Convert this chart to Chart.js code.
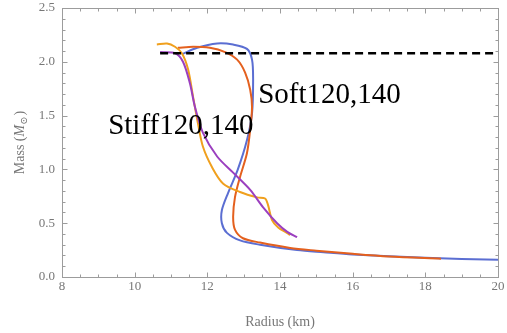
<!DOCTYPE html>
<html>
<head>
<meta charset="utf-8">
<script src="https://cdn.jsdelivr.net/npm/chart.js@4.4.1/dist/chart.umd.min.js"></script>
<style>
  html, body { margin: 0; padding: 0; background: #fff; }
  #wrap { width: 507px; height: 333px; }
</style>
</head>
<body>
<div id="wrap"><canvas id="chart"></canvas></div>
<script>
// mass-radius curves, radius in km, mass in solar masses
const stiffA_R = [10.61, 10.89, 11.11, 11.3, 11.47, 11.61, 11.74, 11.88, 12.13, 12.43, 12.9, 13.37, 13.59, 13.67, 13.78, 13.95, 14.19, 14.28];
const stiffA_M = [2.16, 2.17, 2.14, 2.08, 1.93, 1.67, 1.43, 1.21, 1.02, 0.87, 0.79, 0.74, 0.73, 0.67, 0.53, 0.46, 0.41, 0.39];

const stiffB_R = [10.7, 11.11, 11.33, 11.52, 11.66, 11.88, 12.27, 12.71, 13.18, 13.53, 13.92, 14.2, 14.47];
const stiffB_M = [2.09, 2.08, 2.0, 1.80, 1.58, 1.34, 1.12, 0.97, 0.81, 0.65, 0.50, 0.42, 0.37];

const softA_R = [11.19, 11.61, 12.07, 12.49, 12.82, 13.04, 13.18, 13.23, 13.18, 13.09, 12.9, 12.76, 12.71, 12.76, 12.98, 13.45, 14.28, 15.0, 16.0, 17.0, 18.43];
const softA_M = [2.13, 2.14, 2.13, 2.09, 2.02, 1.90, 1.74, 1.58, 1.37, 1.15, 0.93, 0.74, 0.56, 0.44, 0.36, 0.32, 0.27, 0.245, 0.215, 0.19, 0.17];

const softB_R = [11.3, 11.72, 12.27, 12.71, 13.09, 13.23, 13.26, 13.23, 13.09, 12.84, 12.57, 12.4, 12.4, 12.54, 12.9, 13.45, 14.47, 15.2, 16.0, 18.0, 20.0];
const softB_M = [2.07, 2.13, 2.17, 2.16, 2.12, 2.02, 1.83, 1.52, 1.27, 1.0, 0.78, 0.62, 0.50, 0.41, 0.34, 0.30, 0.25, 0.23, 0.21, 0.178, 0.16];

const limitR = [10.7, 20];
const limitM = 2.08;

const labels = [
  { text: 'Soft120,140', r: 13.4, m: 1.62 },
  { text: 'Stiff120,140', r: 9.27, m: 1.33 }
];

const pts = (rs, ms) => rs.map((r, i) => ({ x: r, y: ms[i] }));
const curve = (rs, ms, color) => ({
  data: pts(rs, ms), borderColor: color, borderWidth: 2, showLine: true,
  pointRadius: 0, tension: 0.3, fill: false
});

const serif = "'Liberation Serif', 'DejaVu Serif', serif";

const frame = {
  id: 'frame',
  afterDatasetsDraw(chart) {
    const { ctx, chartArea: a, scales: { x, y } } = chart;
    const L = Math.round(a.left) + 0.5, R = Math.round(a.right) + 0.5;
    const T = Math.round(a.top) + 0.5, B = Math.round(a.bottom) + 0.5;
    ctx.save();
    ctx.strokeStyle = '#9c9c9c';
    ctx.lineWidth = 1;
    ctx.strokeRect(L, T, R - L, B - T);
    ctx.beginPath();
    for (let i = 0; i <= 24; i++) {
      const v = 8 + i * 0.5;
      const px = Math.round(x.getPixelForValue(v)) + 0.5;
      const len = i % 4 === 0 ? 5 : 3;
      ctx.moveTo(px, B); ctx.lineTo(px, B - len);
      ctx.moveTo(px, T); ctx.lineTo(px, T + len);
    }
    for (let i = 0; i <= 25; i++) {
      const py = Math.round(y.getPixelForValue(i * 0.1)) + 0.5;
      const len = i % 5 === 0 ? 5 : 3;
      ctx.moveTo(L, py); ctx.lineTo(L + len, py);
      ctx.moveTo(R, py); ctx.lineTo(R - len, py);
    }
    ctx.stroke();

    // annotations
    ctx.fillStyle = '#000';
    ctx.font = '29px ' + serif;
    ctx.textBaseline = 'alphabetic';
    ctx.textAlign = 'left';
    labels.forEach(l => ctx.fillText(l.text, x.getPixelForValue(l.r), y.getPixelForValue(l.m)));

    // axis titles
    ctx.fillStyle = '#777';
    ctx.font = '14px ' + serif;
    ctx.textAlign = 'center';
    ctx.textBaseline = 'middle';
    ctx.fillText('Radius (km)', (a.left + a.right) / 2, 322);

    ctx.translate(20, (a.top + a.bottom) / 2);
    ctx.rotate(-Math.PI / 2);
    ctx.textAlign = 'left';
    const p1 = 'Mass (', p3 = ')';
    ctx.font = '14px ' + serif;
    const w1 = ctx.measureText(p1).width;
    ctx.font = 'italic 14px ' + serif;
    const w2 = ctx.measureText('M').width;
    ctx.font = '10px ' + serif;
    const w3 = ctx.measureText('⊙').width;
    ctx.font = '14px ' + serif;
    const w4 = ctx.measureText(p3).width;
    let cx = -(w1 + w2 + w3 + w4 + 1) / 2;
    ctx.fillText(p1, cx, 0); cx += w1;
    ctx.font = 'italic 14px ' + serif;
    ctx.fillText('M', cx, 0); cx += w2;
    ctx.font = '10px ' + serif;
    ctx.fillText('⊙', cx, 4); cx += w3 + 1;
    ctx.font = '14px ' + serif;
    ctx.fillText(p3, cx, 0);
    ctx.restore();
  }
};

new Chart(document.getElementById('chart'), {
  type: 'scatter',
  data: {
    datasets: [
      {
        data: pts(limitR, [limitM, limitM]), borderColor: '#000', borderWidth: 2.5,
        borderDash: [8, 5], showLine: true, pointRadius: 0, fill: false
      },
      curve(stiffB_R, stiffB_M, '#9b3fbf'),
      curve(stiffA_R, stiffA_M, '#f0a01e'),
      curve(softA_R, softA_M, '#e4601e'),
      curve(softB_R, softB_M, '#5b6ed2')
    ]
  },
  options: {
    responsive: true,
    maintainAspectRatio: false,
    animation: false,
    layout: { padding: { top: 8, right: 9, left: 0, bottom: 0 } },
    plugins: { legend: { display: false }, tooltip: { enabled: false } },
    scales: {
      x: {
        type: 'linear', min: 8, max: 20,
        grid: { display: false, drawTicks: false }, border: { display: false },
        ticks: { stepSize: 2, padding: 2, color: '#777', font: { family: serif, size: 13 } },
        afterFit: (s) => { s.height = 56; s.paddingLeft = 0; s.paddingRight = 0; }
      },
      y: {
        min: 0, max: 2.5,
        grid: { display: false, drawTicks: false }, border: { display: false },
        ticks: { stepSize: 0.5, padding: 7, color: '#777', font: { family: serif, size: 13 },
                 callback: (v) => v.toFixed(1) },
        afterFit: (s) => { s.width = 62; s.paddingTop = 0; s.paddingBottom = 0; }
      }
    }
  },
  plugins: [frame]
});
</script>
</body>
</html>
